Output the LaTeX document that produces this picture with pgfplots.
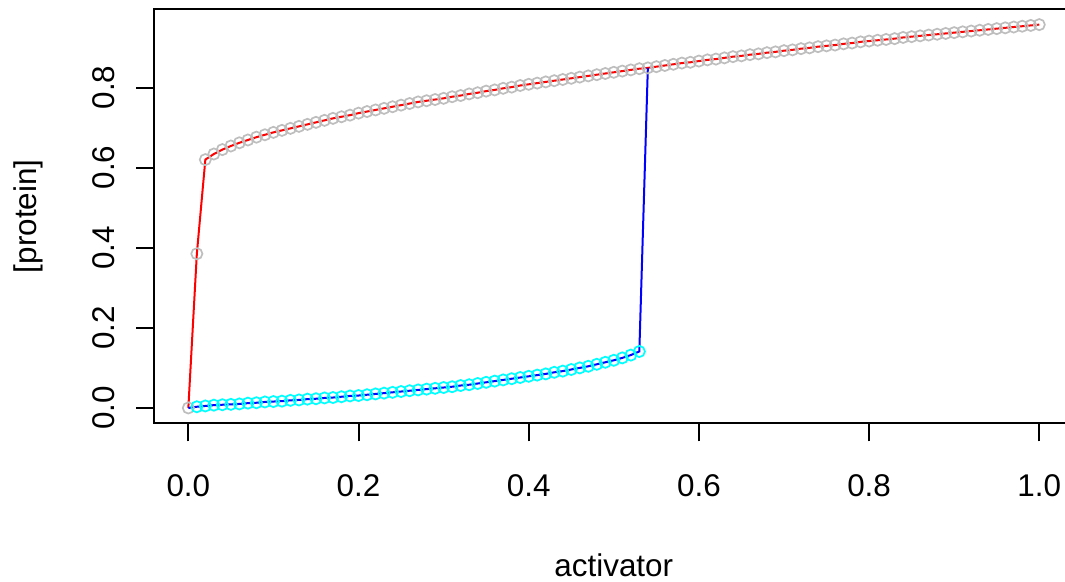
\documentclass[border=0pt]{standalone}
\usepackage{pgfplots}
\pgfplotsset{compat=1.18}
\usepackage{pgfplotstable}
\usepackage{fontspec}
\setmainfont{Liberation Sans}
\definecolor{rgray}{HTML}{BEBEBE}
\definecolor{rcyan}{HTML}{00FFFF}
\definecolor{rred}{HTML}{FF0000}
\definecolor{rblue}{HTML}{0000FF}
\pgfplotstableread{
x y
0.00 0.000
0.01 0.385
0.02 0.620
0.03 0.634
0.04 0.645
0.05 0.654
0.06 0.662
0.07 0.669
0.08 0.676
0.09 0.682
0.10 0.688
0.11 0.693
0.12 0.698
0.13 0.703
0.14 0.708
0.15 0.713
0.16 0.718
0.17 0.723
0.18 0.727
0.19 0.731
0.20 0.736
0.21 0.740
0.22 0.744
0.23 0.748
0.24 0.752
0.25 0.756
0.26 0.760
0.27 0.764
0.28 0.767
0.29 0.770
0.30 0.773
0.31 0.777
0.32 0.780
0.33 0.784
0.34 0.787
0.35 0.791
0.36 0.794
0.37 0.798
0.38 0.801
0.39 0.805
0.40 0.808
0.41 0.811
0.42 0.814
0.43 0.817
0.44 0.820
0.45 0.823
0.46 0.826
0.47 0.829
0.48 0.832
0.49 0.835
0.50 0.838
0.51 0.841
0.52 0.844
0.53 0.847
0.54 0.849
0.55 0.852
0.56 0.855
0.57 0.858
0.58 0.861
0.59 0.863
0.60 0.866
0.61 0.869
0.62 0.871
0.63 0.874
0.64 0.877
0.65 0.879
0.66 0.882
0.67 0.884
0.68 0.887
0.69 0.889
0.70 0.892
0.71 0.894
0.72 0.897
0.73 0.899
0.74 0.902
0.75 0.904
0.76 0.906
0.77 0.909
0.78 0.911
0.79 0.914
0.80 0.916
0.81 0.918
0.82 0.920
0.83 0.922
0.84 0.925
0.85 0.927
0.86 0.929
0.87 0.931
0.88 0.933
0.89 0.935
0.90 0.937
0.91 0.939
0.92 0.941
0.93 0.943
0.94 0.945
0.95 0.947
0.96 0.949
0.97 0.951
0.98 0.953
0.99 0.955
1.00 0.957
}\upperbranch
\pgfplotstableread{
x y
0.00 0.000
0.01 0.003
0.02 0.005
0.03 0.007
0.04 0.008
0.05 0.009
0.06 0.010
0.07 0.012
0.08 0.013
0.09 0.015
0.10 0.016
0.11 0.017
0.12 0.019
0.13 0.020
0.14 0.022
0.15 0.023
0.16 0.025
0.17 0.026
0.18 0.028
0.19 0.030
0.20 0.031
0.21 0.033
0.22 0.035
0.23 0.037
0.24 0.039
0.25 0.041
0.26 0.043
0.27 0.045
0.28 0.047
0.29 0.049
0.30 0.051
0.31 0.053
0.32 0.056
0.33 0.058
0.34 0.061
0.35 0.064
0.36 0.067
0.37 0.070
0.38 0.073
0.39 0.076
0.40 0.079
0.41 0.082
0.42 0.085
0.43 0.089
0.44 0.092
0.45 0.096
0.46 0.100
0.47 0.104
0.48 0.109
0.49 0.114
0.50 0.119
0.51 0.125
0.52 0.132
0.53 0.141
0.54 0.849
}\lowerbranch
\begin{document}
\begin{tikzpicture}
\useasboundingbox (0,0) rectangle (532.5pt,291pt);
\begin{axis}[
  at={(77.15pt,79.35pt)}, anchor=south west,
  width=459.5pt, height=207pt, scale only axis,
  xmin=-0.04, xmax=1.04, ymin=-0.0383, ymax=0.9953,
  axis line style={line width=1pt, black},
  tick align=outside, tick pos=left,
  major tick length=9pt,
  tick style={line width=1pt, black},
  xtick={0,0.2,0.4,0.6,0.8,1.0},
  ytick={0,0.2,0.4,0.6,0.8},
  /pgf/number format/.cd, fixed, fixed zerofill, precision=1, assume math mode=true,
  /pgfplots/.cd,
  ticklabel style={font=\fontsize{15.7}{18}\selectfont, inner sep=0pt},
  xticklabel style={anchor=base},
  yticklabel style={rotate=90, anchor=base},
  xticklabel shift=27.85pt,
  yticklabel shift=10.65pt,
  xlabel={activator},
  ylabel={[protein]},
  label style={font=\fontsize{15.7}{18}\selectfont},
  xlabel style={at={(axis description cs:0.5,-0.3423)}, anchor=center},
  ylabel style={at={(axis description cs:-0.1374,0.5)}, anchor=center},
]
\addplot[only marks, mark=o, mark size=2.8pt, color=rgray, mark options={line width=0.85pt}] table[x=x,y=y] {\upperbranch};
\addplot[no marks, color=rred, line width=1pt] table[x=x,y=y] {\upperbranch};
\addplot[only marks, mark=o, mark size=2.8pt, color=rcyan, mark options={line width=0.85pt}, restrict x to domain=0.005:0.535] table[x=x,y=y] {\lowerbranch};
\addplot[no marks, color=rblue, line width=1pt] table[x=x,y=y] {\lowerbranch};
\end{axis}
\end{tikzpicture}
\end{document}
